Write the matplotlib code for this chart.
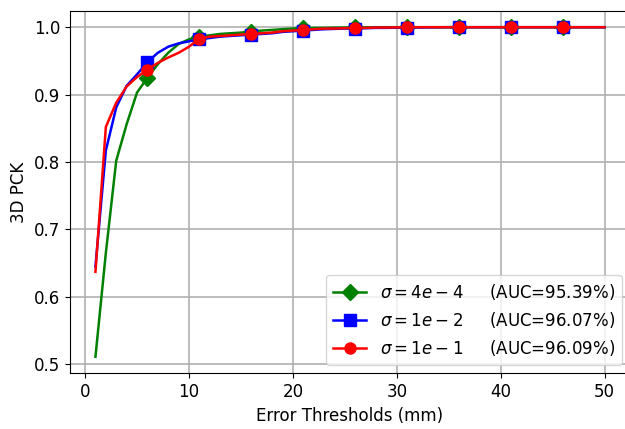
import numpy as np
import matplotlib
matplotlib.use("Agg")
import matplotlib.pyplot as plt

# Error thresholds in millimetres
thresholds = np.arange(1, 51)

# 3D PCK per threshold for each sigma setting
pck_4e4 = [0.511, 0.665, 0.802, 0.856, 0.903, 0.925, 0.945, 0.962, 0.975, 0.982,
           0.986, 0.988, 0.990, 0.991, 0.992, 0.9935, 0.995, 0.996, 0.997, 0.998,
           0.9985, 0.999, 0.999, 0.9993, 0.9995, 0.9997, 0.9998, 1.0, 1.0, 1.0,
           1.0, 1.0, 1.0, 1.0, 1.0, 1.0, 1.0, 1.0, 1.0, 1.0,
           1.0, 1.0, 1.0, 1.0, 1.0, 1.0, 1.0, 1.0, 1.0, 1.0]
pck_1e2 = [0.645, 0.817, 0.881, 0.913, 0.930, 0.948, 0.962, 0.971, 0.976, 0.979,
           0.982, 0.984, 0.986, 0.987, 0.988, 0.989, 0.990, 0.991, 0.993, 0.994,
           0.995, 0.996, 0.997, 0.9975, 0.998, 0.998, 0.9985, 0.999, 0.999, 0.9993,
           0.9995, 0.9997, 0.9998, 0.9999, 1.0, 1.0, 1.0, 1.0, 1.0, 1.0,
           1.0, 1.0, 1.0, 1.0, 1.0, 1.0, 1.0, 1.0, 1.0, 1.0]
pck_1e1 = [0.637, 0.852, 0.888, 0.912, 0.926, 0.937, 0.947, 0.955, 0.962, 0.971,
           0.983, 0.986, 0.987, 0.988, 0.989, 0.990, 0.991, 0.992, 0.994, 0.995,
           0.996, 0.997, 0.998, 0.998, 0.9985, 0.999, 0.999, 0.9995, 0.9995, 0.9997,
           1.0, 1.0, 1.0, 1.0, 1.0, 1.0, 1.0, 1.0, 1.0, 1.0,
           1.0, 1.0, 1.0, 1.0, 1.0, 1.0, 1.0, 1.0, 1.0, 1.0]

labels = [r"$\sigma=4e-4$     (AUC=95.39%)",
          r"$\sigma=1e-2$     (AUC=96.07%)",
          r"$\sigma=1e-1$     (AUC=96.09%)"]

plt.rcParams["font.family"] = ["DejaVu Sans"]
plt.rcParams["font.size"] = 12

fig = plt.figure(figsize=(6.25, 4.29), dpi=100)
ax = fig.add_axes([0.112, 0.13, 0.896, 0.845])

marks = slice(5, 50, 5)
ax.plot(thresholds, pck_4e4, color="g", marker="D", markersize=8,
        linewidth=1.8, markevery=marks, label=labels[0])
ax.plot(thresholds, pck_1e2, color="b", marker="s", markersize=8,
        linewidth=1.8, markevery=marks, label=labels[1])
ax.plot(thresholds, pck_1e1, color="r", marker="o", markersize=8,
        linewidth=1.8, markevery=marks, label=labels[2])

ax.set_xlabel("Error Thresholds (mm)")
ax.set_ylabel("3D PCK")
ax.grid(True, color="#b0b0b0", linewidth=1.2)
ax.set_axisbelow(True)
ax.legend(loc="lower right")

fig.savefig("out.png", dpi=100)
